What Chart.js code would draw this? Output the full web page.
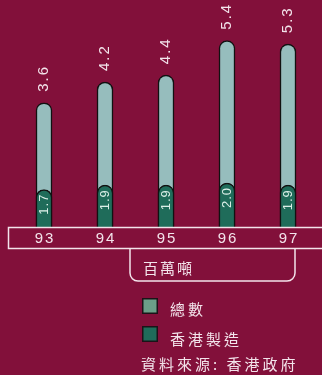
<!DOCTYPE html>
<html>
<head>
<meta charset="utf-8">
<script src="https://cdn.jsdelivr.net/npm/chart.js@4/dist/chart.umd.min.js"></script>
<style>
  html, body { margin: 0; padding: 0; background: #82103a; }
  canvas { display: block; }
</style>
</head>
<body>
<canvas id="myChart" width="322" height="375"></canvas>
<script>
// 年份 / 數值 (百萬噸)
var years = ['93', '94', '95', '96', '97'];
var totals = [3.6, 4.2, 4.4, 5.4, 5.3];
var hkMade = [1.7, 1.9, 1.9, 2.0, 1.9];
var seriesNames = ['總數', '香港製造'];
var unitText = '百萬噸';
var sourceText = '資料來源: 香港政府';

var BG = '#82103a';
var TXT = '#f3e4eb';

// 逐字畫, 字距自己加
function spaced(ctx, text, x, y, sp, align) {
  var chars = Array.from(text);
  var w = chars.map(function (c) { return ctx.measureText(c).width; });
  var total = w.reduce(function (a, b) { return a + b; }, 0) + sp * (chars.length - 1);
  var start = align === 'center' ? x - total / 2 : (align === 'right' ? x - total : x);
  ctx.textAlign = 'left';
  for (var i = 0; i < chars.length; i++) {
    ctx.fillText(chars[i], start, y);
    start += w[i] + sp;
  }
}

var decor = {
  id: 'decor',
  beforeDraw: function (chart) {
    var c = chart.ctx;
    c.save();
    c.fillStyle = BG;
    c.fillRect(0, 0, chart.width, chart.height);
    c.restore();
  },
  afterDraw: function (chart) {
    var c = chart.ctx;
    var xs = chart.scales.x;
    var bottom = chart.chartArea.bottom;
    c.save();

    // 數值標籤 (直排)
    c.textBaseline = 'middle';
    var mTot = chart.getDatasetMeta(0);
    c.fillStyle = TXT;
    c.font = '15px "Liberation Sans"';
    mTot.data.forEach(function (bar, i) {
      c.save();
      c.translate(bar.x, bar.y - 11);
      c.rotate(-Math.PI / 2);
      spaced(c, totals[i].toFixed(1), 0, 0, 2, 'left');
      c.restore();
    });
    var mHk = chart.getDatasetMeta(1);
    c.fillStyle = '#dcefe8';
    c.font = '13px "Liberation Sans"';
    mHk.data.forEach(function (bar, i) {
      c.save();
      c.translate(bar.x, bar.y + 5);
      c.rotate(-Math.PI / 2);
      spaced(c, hkMade[i].toFixed(1), 0, 0, 1, 'right');
      c.restore();
    });

    // x軸 方框
    c.strokeStyle = TXT;
    c.lineWidth = 1.5;
    c.fillStyle = BG;
    c.fillRect(8.5, bottom, 330, 21);
    c.strokeRect(8.5, bottom + 0.5, 330, 21);
    c.fillStyle = TXT;
    c.font = '15px "Liberation Sans"';
    years.forEach(function (y, i) {
      spaced(c, y, xs.getPixelForValue(i), bottom + 11.5, 2, 'center');
    });

    // 單位括號
    c.beginPath();
    c.moveTo(130, bottom + 21.5);
    c.lineTo(130, 273);
    c.arcTo(130, 281, 138, 281, 8);
    c.lineTo(287, 281);
    c.arcTo(295, 281, 295, 273, 8);
    c.lineTo(295, bottom + 21.5);
    c.stroke();
    c.font = '15px "Noto Sans CJK TC"';
    spaced(c, unitText, 143, 268, 2, 'left');

    // 圖例
    var sq = ['#6b9f88', '#1f6c5a'];
    [298, 326].forEach(function (y, i) {
      c.fillStyle = '#1a1418';
      c.fillRect(142, y, 16, 16);
      c.fillStyle = sq[i];
      c.fillRect(143.5, y + 1.5, 13, 13);
      c.fillStyle = TXT;
      spaced(c, seriesNames[i], 170, y + 13 - (i === 0 ? 2 : 0), 3, 'left');
    });

    spaced(c, sourceText, 141, 364, 3, 'left');
    c.restore();
  }
};

var ctx = document.getElementById('myChart').getContext('2d');
var myChart = new Chart(ctx, {
  type: 'bar',
  data: {
    labels: years,
    datasets: [{
      label: seriesNames[0],
      data: totals,
      backgroundColor: '#96bdbd',
      borderColor: '#111111',
      borderWidth: 1.5,
      borderRadius: { topLeft: 8, topRight: 8 },
      borderSkipped: 'bottom',
      barThickness: 16,
      grouped: false,
      yAxisID: 'y',
      order: 1
    }, {
      label: seriesNames[1],
      data: hkMade,
      backgroundColor: '#1f6c5a',
      borderColor: '#111111',
      borderWidth: 1.5,
      borderRadius: { topLeft: 8, topRight: 8 },
      borderSkipped: 'bottom',
      barThickness: 16,
      grouped: false,
      yAxisID: 'y2',
      order: 0
    }]
  },
  options: {
    responsive: false,
    animation: false,
    layout: { padding: { left: 13.5, right: 3.5, top: 20, bottom: 148 } },
    scales: {
      x: { display: false },
      y: { display: false, min: 0, max: 6 },
      y2: { display: false, min: 0, max: 9.4 }
    },
    plugins: {
      legend: { display: false },
      tooltip: { enabled: false }
    }
  },
  plugins: [decor]
});
</script>
</body>
</html>
